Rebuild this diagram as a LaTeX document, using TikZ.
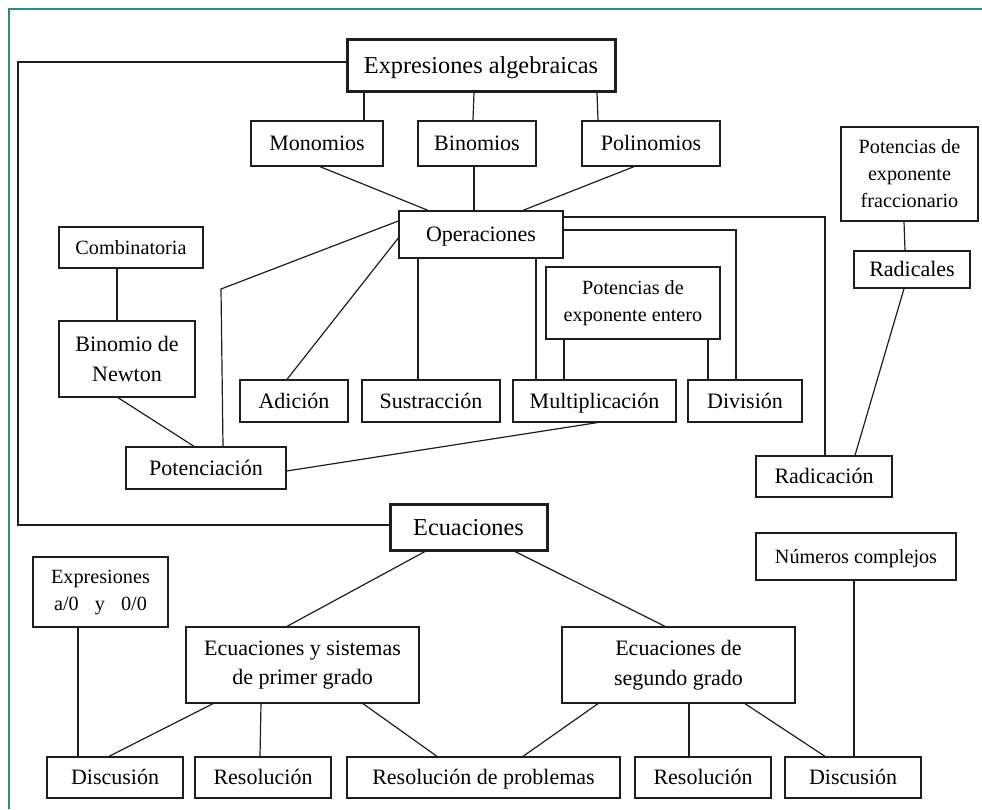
\documentclass[tikz,border=0pt]{standalone}
\usepackage{fontspec}
\setmainfont{Liberation Serif}
\definecolor{frameteal}{RGB}{42,139,135}
\definecolor{ink}{RGB}{30,30,30}
\begin{document}
\begin{tikzpicture}[x=1pt,y=-1pt,
  box/.style={draw=ink, line width=1.3pt, inner sep=0pt, align=center},
  bigbox/.style={box, line width=3pt, font=\fontsize{24.3}{29}\selectfont, text height=16.1pt, text depth=0pt},
  midbox/.style={box, font=\fontsize{22}{29.7}\selectfont},
  oneline/.style={text height=14.6pt, text depth=0pt},
  smallbox/.style={box, font=\fontsize{20.2}{27}\selectfont},
  smallone/.style={text height=13.4pt, text depth=0pt},
  link/.style={draw=ink, line width=1.2pt}]
\useasboundingbox (0,0) rectangle (982,809);
\draw[frameteal, line width=2pt] (9,809) -- (9,9) -- (982,9);
% nodes
\node[bigbox, minimum width=268, minimum height=52] (expr) at (481,65) {Expresiones algebraicas};
\node[midbox, oneline, minimum width=132, minimum height=45] (mono) at (317,143.5) {Monomios};
\node[midbox, oneline, minimum width=118, minimum height=45] (bino) at (477,143.5) {Binomios};
\node[midbox, oneline, minimum width=138, minimum height=45] (poli) at (651,143.5) {Polinomios};
\node[midbox, oneline, minimum width=164, minimum height=47] (oper) at (481,234.5) {Operaciones};
\node[smallbox, smallone, minimum width=144, minimum height=41] (comb) at (131,247.5) {Combinatoria};
\node[midbox, minimum width=136, minimum height=76] (newton) at (127,359) {Binomio de\\Newton};
\node[midbox, oneline, minimum width=160, minimum height=42] (poten) at (206,468) {Potenciación};
\node[midbox, oneline, minimum width=108, minimum height=42] (adic) at (294,401) {Adición};
\node[midbox, oneline, minimum width=138, minimum height=42] (sust) at (431,401) {Sustracción};
\node[midbox, oneline, minimum width=163, minimum height=42] (mult) at (594.5,401) {Multiplicación};
\node[midbox, oneline, minimum width=114, minimum height=42] (divi) at (745,401) {División};
\node[smallbox, minimum width=174, minimum height=72] (potent) at (633,303) {Potencias de\\exponente entero};
\node[smallbox, minimum width=137, minimum height=94] (fracc) at (909.5,174) {Potencias de\\exponente\\fraccionario};
\node[midbox, oneline, minimum width=116, minimum height=37] (radicales) at (912,269.5) {Radicales};
\node[midbox, oneline, minimum width=136, minimum height=41] (radicacion) at (824,476.5) {Radicación};
\node[bigbox, minimum width=157, minimum height=46] (ecua) at (468.5,527) {Ecuaciones};
\node[smallbox, minimum width=135, minimum height=70] (expr00) at (100.5,592) {Expresiones\\a/0\hspace{11pt} y\hspace{11pt} 0/0};
\node[midbox, minimum width=233, minimum height=76] (primer) at (302.5,665) {Ecuaciones y sistemas\\de primer grado};
\node[midbox, minimum width=233, minimum height=76] (segundo) at (678.5,665) {Ecuaciones de\\segundo grado};
\node[midbox, oneline, minimum width=136, minimum height=41] (disc1) at (115,777.5) {Discusión};
\node[midbox, oneline, minimum width=136, minimum height=41] (res1) at (263,777.5) {Resolución};
\node[midbox, oneline, minimum width=273, minimum height=41] (resprob) at (483.5,777.5) {Resolución de problemas};
\node[midbox, oneline, minimum width=136, minimum height=41] (res2) at (703,777.5) {Resolución};
\node[midbox, oneline, minimum width=136, minimum height=41] (disc2) at (853,777.5) {Discusión};
\node[smallbox, smallone, minimum width=200, minimum height=47] (numc) at (856,556.5) {Números complejos};
% connectors
\coordinate (lc) at (18,300);
\draw[link] ([yshift=3]expr.west) -| (lc) |- ([yshift=2]ecua.west);
\draw[link] ([xshift=-117]expr.south) -- ([xshift=47]mono.north);
\draw[link] ([xshift=-7]expr.south) -- ([xshift=-4]bino.north);
\draw[link] ([xshift=116]expr.south) -- ([xshift=-53]poli.north);
\draw[link] ([xshift=3]mono.south) -- ([xshift=-53]oper.north);
\draw[link] ([xshift=-3]bino.south) -- ([xshift=-7]oper.north);
\draw[link] ([xshift=-17]poli.south) -- ([xshift=42]oper.north);
\draw[link] ([yshift=17.5]oper.east) -| ([xshift=1]radicacion.north);
\draw[link] ([yshift=4.5]oper.east) -| ([xshift=-9]divi.north);
\draw[link] ([xshift=55]oper.south) -- ([xshift=-58.5]mult.north);
\draw[link] ([xshift=-63]oper.south) -- ([xshift=-13]sust.north);
\draw[link] ([yshift=-3.5]oper.west) -- ([xshift=-7]adic.north);
\coordinate (pk) at (221,289);
\draw[link] ([yshift=13.5]oper.west) -- (pk) -- ([xshift=17]poten.north);
\draw[link] ([xshift=-14]comb.south) -- ([xshift=-10]newton.north);
\draw[link] ([xshift=-9]newton.south) -- ([xshift=-12]poten.north);
\draw[link] ([yshift=-3]poten.east) -- ([xshift=2.5]mult.south);
\draw[link] ([xshift=-69]potent.south) -- ([xshift=-30.5]mult.north);
\draw[link] ([xshift=75]potent.south) -- ([xshift=-37]divi.north);
\draw[link] ([xshift=-5.5]fracc.south) -- ([xshift=-7]radicales.north);
\draw[link] ([xshift=-8]radicales.south) -- ([xshift=31]radicacion.north);
\draw[link] ([xshift=-43.5]ecua.south) -- ([xshift=-15.5]primer.north);
\draw[link] ([xshift=46.5]ecua.south) -- ([xshift=-13.5]segundo.north);
\draw[link] ([xshift=-22.5]expr00.south) -- ([xshift=-37]disc1.north);
\draw[link] ([xshift=-89.5]primer.south) -- ([xshift=-6]disc1.north);
\draw[link] ([xshift=-41.5]primer.south) -- ([xshift=-3]res1.north);
\draw[link] ([xshift=60.5]primer.south) -- ([xshift=-46.5]resprob.north);
\draw[link] ([xshift=-80.5]segundo.south) -- ([xshift=39.5]resprob.north);
\draw[link] ([xshift=10.5]segundo.south) -- ([xshift=-14]res2.north);
\draw[link] ([xshift=66.5]segundo.south) -- ([xshift=-28]disc2.north);
\draw[link] ([xshift=-2]numc.south) -- ([xshift=1]disc2.north);
\end{tikzpicture}
\end{document}
